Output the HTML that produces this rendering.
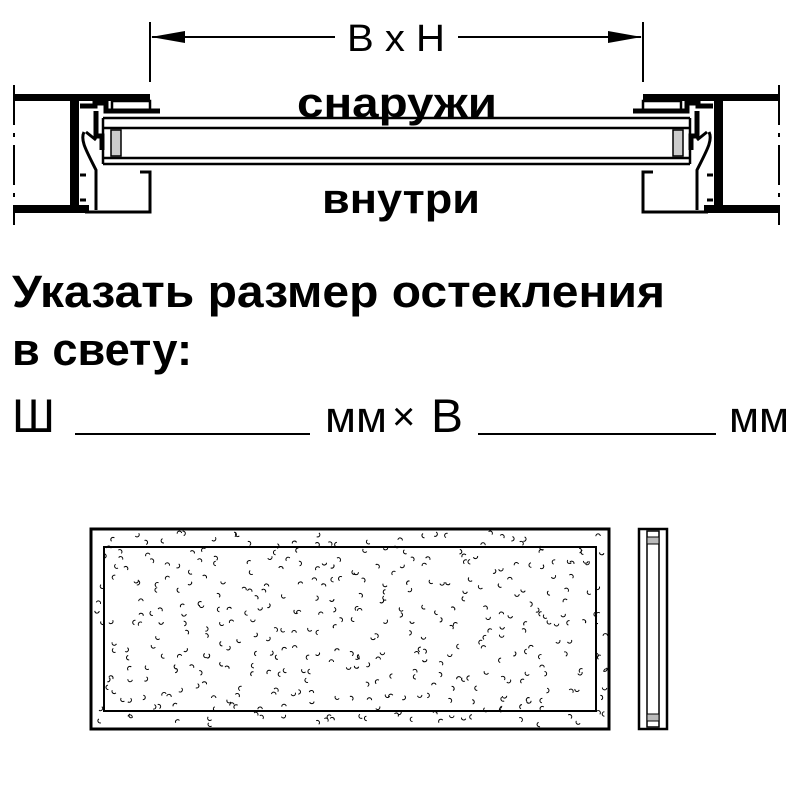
<!DOCTYPE html>
<html><head><meta charset="utf-8"><style>
html,body{margin:0;padding:0;background:#fff}
svg{display:block}
text{font-family:"Liberation Sans",sans-serif}
</style></head><body>
<svg id="s" width="800" height="805" viewBox="0 0 800 805">
<line x1="150" y1="22" x2="150" y2="82" stroke="#000" stroke-width="2"/>
<line x1="643" y1="22" x2="643" y2="82" stroke="#000" stroke-width="2"/>
<line x1="152" y1="37" x2="335" y2="37" stroke="#000" stroke-width="2"/>
<line x1="458" y1="37" x2="641" y2="37" stroke="#000" stroke-width="2"/>
<polygon points="151,37 185,31 185,43" fill="#000"/>
<polygon points="642,37 608,31 608,43" fill="#000"/>
<text x="347" y="51" font-size="38" textLength="98" lengthAdjust="spacingAndGlyphs">B x H</text>

<g stroke="#000" stroke-width="2.5" fill="none">
<line x1="103" y1="118" x2="690" y2="118"/>
<line x1="103" y1="128" x2="690" y2="128"/>
<line x1="103" y1="158" x2="690" y2="158"/>
<line x1="103" y1="164" x2="690" y2="164"/>
<line x1="103" y1="118" x2="103" y2="164"/>
<line x1="690" y1="118" x2="690" y2="164"/>
</g>
<rect x="111" y="130" width="10" height="26" fill="#ccc" stroke="#000" stroke-width="1.5"/>
<rect x="673" y="130" width="10" height="26" fill="#ccc" stroke="#000" stroke-width="1.5"/>

<g id="lp">
<line x1="14" y1="85" x2="14" y2="225" stroke="#000" stroke-width="2" stroke-dasharray="40,8,4,8"/>
<rect x="14" y="94" width="136" height="7" fill="#000"/>
<rect x="70" y="100" width="9" height="112" fill="#000"/>
<rect x="14" y="205" width="75" height="8" fill="#000"/>
<rect x="112" y="101" width="38" height="9" fill="none" stroke="#000" stroke-width="2.5"/>
<path d="M80 106 H95 V103 H106 V111 H160 M96 111 V136 H102 V150" stroke="#000" stroke-width="5" fill="none"/>
<path d="M84 132 C80 140 86 150 96 170 V210 M86 132 L96 140" stroke="#000" stroke-width="3" fill="none"/>
<path d="M85 212 H150 V172 H140" stroke="#000" stroke-width="3" fill="none"/>
<path d="M80 175 H86 M80 200 H86" stroke="#000" stroke-width="3"/>
</g>
<use href="#lp" transform="translate(793,0) scale(-1,1)"/>

<rect x="290" y="88" width="215" height="28" fill="#fff"/>
<text x="297" y="117" font-size="42" font-weight="bold" textLength="200" lengthAdjust="spacingAndGlyphs">снаружи</text>
<text x="322" y="213" font-size="42" font-weight="bold" textLength="158" lengthAdjust="spacingAndGlyphs">внутри</text>

<text x="12" y="307" font-size="45" font-weight="bold" textLength="653" lengthAdjust="spacingAndGlyphs">Указать размер остекления</text>
<text x="12" y="365" font-size="45" font-weight="bold" textLength="180" lengthAdjust="spacingAndGlyphs">в свету:</text>

<text x="12" y="432" font-size="47" textLength="43" lengthAdjust="spacingAndGlyphs">Ш</text>
<line x1="75" y1="434" x2="310" y2="434" stroke="#000" stroke-width="2"/>
<text x="325" y="432" font-size="44" textLength="62" lengthAdjust="spacingAndGlyphs">мм</text>
<text x="392" y="430" font-size="40">×</text>
<text x="431" y="432" font-size="47" textLength="32" lengthAdjust="spacingAndGlyphs">В</text>
<line x1="478" y1="434" x2="716" y2="434" stroke="#000" stroke-width="2"/>
<text x="729" y="432" font-size="44" textLength="60" lengthAdjust="spacingAndGlyphs">мм</text>

<rect x="91" y="529" width="518" height="200" fill="none" stroke="#000" stroke-width="3"/>
<rect x="104" y="547" width="492" height="164" fill="none" stroke="#000" stroke-width="2"/>
<g id="dots" stroke="#000" stroke-width="1" fill="none"></g>
<rect x="639" y="529" width="28" height="200" fill="none" stroke="#000" stroke-width="2.5"/>
<rect x="647" y="531" width="12" height="196" fill="none" stroke="#000" stroke-width="1.5"/>
<rect x="647" y="537" width="12" height="7" fill="#bbb" stroke="#000"/>
<rect x="647" y="714" width="12" height="7" fill="#bbb" stroke="#000"/>
</svg>
<script>
var g=document.getElementById('dots'),s=98765;
function r(){s=(s*16807)%2147483647;return s/2147483647;}
var h='',n=0;
for(var gx=0;gx<22;gx++)for(var gy=0;gy<9;gy++){
for(var k=0;k<2;k++){var x=96+gx*23.3+r()*22,y=533+gy*21.5+r()*20,a=r()*6.28,l=2.2;
var x1=x+Math.cos(a)*l,y1=y+Math.sin(a)*l,x2=x-Math.cos(a)*l,y2=y-Math.sin(a)*l;
h+='<path d="M'+x1.toFixed(1)+' '+y1.toFixed(1)+' A2.2 2.2 0 0 1 '+x2.toFixed(1)+' '+y2.toFixed(1)+'"/>';}}
g.innerHTML=h;
</script>
</body></html>
